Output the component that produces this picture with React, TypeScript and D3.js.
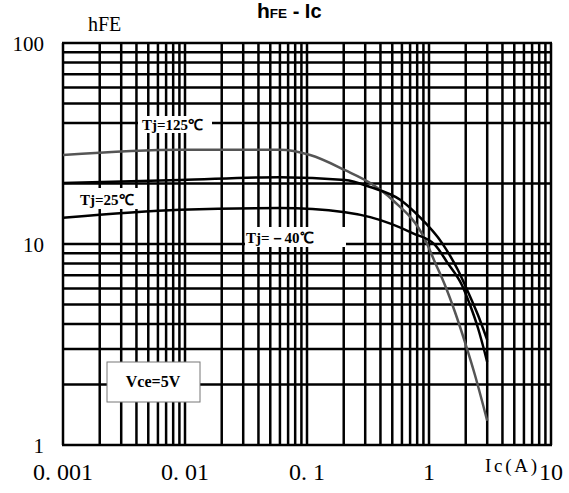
import { useEffect, useRef } from 'react'
import * as d3 from 'd3'

// hFE vs Ic, Vce = 5V
const ic125 = [0.001, 0.0091, 0.06, 0.106, 0.205, 0.33, 0.5, 0.93, 1.12, 1.35, 1.63, 1.97, 2.38, 3.0]
const hfe125 = [27.7, 29.4, 29.4, 27.7, 23.3, 20.1, 16.6, 10.5, 8.1, 6.25, 4.6, 3.25, 2.23, 1.32]

const ic25 = [0.001, 0.0091, 0.06, 0.205, 0.33, 0.58, 0.84, 1.28, 1.73, 2.09, 2.52, 3.0]
const hfe25 = [20.1, 20.8, 21.5, 20.8, 19.2, 16.6, 13.6, 10.1, 7.4, 5.77, 4.43, 3.33]

const icM40 = [0.001, 0.0091, 0.06, 0.205, 0.33, 0.74, 1.12, 1.41, 1.86, 2.17, 2.52, 3.0]
const hfeM40 = [13.5, 14.8, 15.1, 14.4, 13.6, 11.3, 9.9, 8.1, 6.25, 4.97, 3.82, 2.59]

const xTicks = [0.001, 0.01, 0.1, 1, 10]
const xTickLabels = ['0. 001', '0. 01', '0. 1', '1', '10']
const yTicks = [1, 10, 100]
const yTickLabels = ['1', '10', '100']
const decades = [0.001, 0.01, 0.1, 1]
// the 30 line is missing from the original grid
const yGrid = [1, 2, 3, 4, 5, 6, 7, 8, 9, 10, 20, 40, 50, 60, 70, 80, 90, 100]

const W = 569
const H = 493
const plot = { left: 63, right: 551, top: 43, bottom: 445 }

const serif = '"Liberation Serif", "Times New Roman", serif'
const sans = '"Liberation Sans", Arial, sans-serif'

export default function App() {
  const ref = useRef<SVGSVGElement>(null)

  useEffect(() => {
    if (!ref.current) return
    d3.select(ref.current).selectAll('*').remove()
    render(ref.current)
  }, [])

  return (
    <svg
      ref={ref}
      width={W}
      height={H}
      style={{ position: 'absolute', left: 0, top: 0, background: '#fff' }}
    />
  )
}

function render(el: SVGSVGElement) {
  const svg = d3.select(el).attr('viewBox', `0 0 ${W} ${H}`)

  const x = d3.scaleLog().domain([0.001, 10]).range([plot.left, plot.right])
  const y = d3.scaleLog().domain([1, 100]).range([plot.bottom, plot.top])

  svg.append('rect').attr('width', W).attr('height', H).attr('fill', '#fff')

  // Grid
  const xGrid: number[] = []
  decades.forEach((d) => d3.range(1, 10).forEach((k) => xGrid.push(k * d)))
  xGrid.push(10)

  const grid = svg.append('g').attr('stroke', '#000').attr('stroke-width', 2.5)
  xGrid.forEach((v) => {
    grid.append('line')
      .attr('x1', x(v)).attr('x2', x(v))
      .attr('y1', plot.top).attr('y2', plot.bottom)
  })
  yGrid.forEach((v) => {
    grid.append('line')
      .attr('x1', plot.left - 1).attr('x2', plot.right + 1)
      .attr('y1', y(v)).attr('y2', y(v))
  })

  // Curves
  const line = d3.line<[number, number]>()
    .x((d) => x(d[0]))
    .y((d) => y(d[1]))
    .curve(d3.curveMonotoneX)

  const series = [
    { ic: ic125, hfe: hfe125, color: '#555' },
    { ic: ic25, hfe: hfe25, color: '#000' },
    { ic: icM40, hfe: hfeM40, color: '#000' },
  ]
  series.forEach((s) => {
    svg.append('path')
      .attr('d', line(s.ic.map((v, i) => [v, s.hfe[i]] as [number, number])))
      .attr('fill', 'none')
      .attr('stroke', s.color)
      .attr('stroke-width', 2.5)
  })

  // Curve labels
  const labels = [
    { text: 'Tj=125℃', box: [138, 116, 74, 17], tx: 142, ty: 130 },
    { text: 'Tj=25℃', box: [76, 188, 63, 21], tx: 80, ty: 205 },
    { text: 'Tj=－40℃', box: [245, 227, 101, 20], tx: 246, ty: 243 },
  ]
  labels.forEach((l) => {
    svg.append('rect')
      .attr('x', l.box[0]).attr('y', l.box[1])
      .attr('width', l.box[2]).attr('height', l.box[3])
      .attr('fill', '#fff')
    svg.append('text')
      .attr('x', l.tx).attr('y', l.ty)
      .attr('font-family', serif)
      .attr('font-weight', 'bold')
      .attr('font-size', 15)
      .text(l.text)
  })

  // Vce box
  svg.append('rect')
    .attr('x', 107).attr('y', 362).attr('width', 93).attr('height', 40)
    .attr('fill', '#fff').attr('stroke', '#777').attr('stroke-width', 1)
  svg.append('text')
    .attr('x', 153).attr('y', 387)
    .attr('text-anchor', 'middle')
    .attr('font-family', serif)
    .attr('font-weight', 'bold')
    .attr('font-size', 16)
    .text('Vce=5V')

  // Axis labels
  xTicks.forEach((v, i) => {
    svg.append('text')
      .attr('x', x(v)).attr('y', 480)
      .attr('text-anchor', 'middle')
      .attr('font-family', serif)
      .attr('font-size', 24)
      .text(xTickLabels[i])
  })
  yTicks.forEach((v, i) => {
    svg.append('text')
      .attr('x', 44).attr('y', y(v) + 8)
      .attr('text-anchor', 'end')
      .attr('font-family', serif)
      .attr('font-size', 21)
      .text(yTickLabels[i])
  })

  svg.append('text')
    .attr('x', 485).attr('y', 472)
    .attr('font-family', serif)
    .attr('font-size', 19)
    .attr('textLength', 52)
    .attr('lengthAdjust', 'spacing')
    .text('Ic(A)')

  svg.append('text')
    .attr('x', 88).attr('y', 31)
    .attr('font-family', serif)
    .attr('font-size', 20)
    .text('hFE')

  // Title
  const title = svg.append('text')
    .attr('x', 257).attr('y', 18)
    .attr('font-family', sans)
    .attr('font-weight', 'bold')
  title.append('tspan').attr('font-size', 21).text('h')
  title.append('tspan').attr('font-size', 13.5).text('FE')
  title.append('tspan').attr('font-size', 20).text(' - Ic')
}
